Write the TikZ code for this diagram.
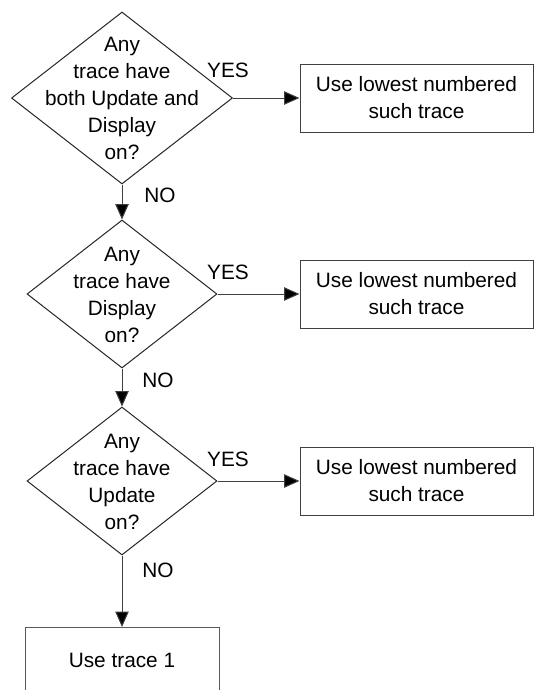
\documentclass[tikz,border=0pt]{standalone}
\usepackage{fontspec}
\setmainfont{Liberation Sans}
\usetikzlibrary{shapes.geometric,arrows.meta}
\begin{document}
\begin{tikzpicture}[x=0.75pt,y=-0.75pt,
  every node/.style={font=\fontsize{15.6}{20.25}\selectfont},
  dia/.style={draw=black!85,line width=0.75pt,diamond,inner sep=0pt},
  dia1/.style={dia,minimum width=165.75pt,minimum height=129pt},
  dia2/.style={dia,minimum width=142.5pt,minimum height=111pt},
  txt/.style={align=center,inner sep=0pt},
  box/.style={draw=black!75,line width=0.75pt,rectangle,minimum width=174.75pt,minimum height=51pt,align=center,inner sep=0pt},
  endbox/.style={draw=black!65,line width=0.75pt,rectangle,minimum width=145.5pt,minimum height=49.5pt,align=center,inner sep=0pt},
  arr/.style={draw=black!75,line width=0.75pt,-{Triangle[length=11.5pt,width=10pt,fill=black]}},
  lab/.style={inner sep=0pt}]
\useasboundingbox (0,0) rectangle (535,690);
\clip (0,0) rectangle (535,690);
\node[dia1] (d1) at (122,98) {};
\node[txt] (t1) at (122,98) {Any\\trace have\\both Update and\\Display\\on?};
\node[dia2] (d2) at (122,294) {};
\node[txt] (t2) at (122,295) {Any\\trace have\\Display\\on?};
\node[dia2] (d3) at (122,481) {};
\node[txt] (t3) at (122,482) {Any\\trace have\\Update\\on?};
\node[box] (b1) at (416.5,98) {Use lowest numbered\\such trace};
\node[box] (b2) at (416.5,294) {Use lowest numbered\\such trace};
\node[box] (b3) at (416.5,481) {Use lowest numbered\\such trace};
\node[endbox,anchor=north] (e) at (122,627) {Use trace 1};
\draw[arr] (d1.east) -- (b1.west);
\draw[arr] (d2.east) -- (b2.west);
\draw[arr] (d3.east) -- (b3.west);
\draw[arr] (d1.south) -- (d2.north);
\draw[arr] (d2.south) -- (d3.north);
\draw[arr] (d3.south) -- (e.north);
\node[lab] (y1) at (228,70) {YES};
\node[lab] (y2) at (228,272) {YES};
\node[lab] (y3) at (228,459) {YES};
\node[lab] (n1) at (160,195) {NO};
\node[lab] (n2) at (158,380) {NO};
\node[lab] (n3) at (158,570) {NO};
\end{tikzpicture}
\end{document}
